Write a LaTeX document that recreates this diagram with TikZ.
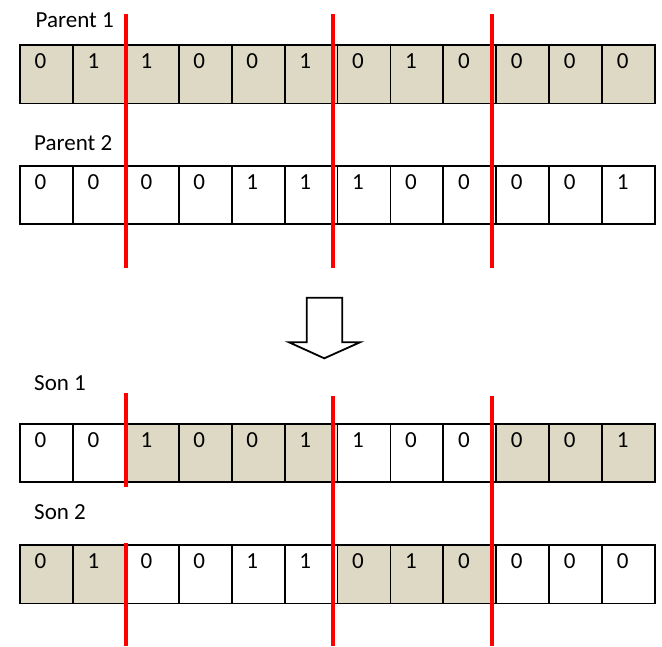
\documentclass[tikz,border=0pt]{standalone}
\usepackage{fontspec}
\setmainfont{Carlito}
\usetikzlibrary{calc}
\definecolor{gene}{HTML}{DDD9C4}

\begin{document}
\begin{tikzpicture}[
  x=1pt, y=-1pt,
  cell/.style={draw, line width=1.8pt, minimum width=52.92pt, minimum height=58.5pt, inner sep=0pt, outer sep=0pt},
  digit/.style={anchor=base, inner sep=0pt, font=\fontsize{23}{27}\selectfont},
  title/.style={anchor=base west, inner sep=0pt, font=\fontsize{23}{27}\selectfont},
  cut/.style={red, line width=4pt},
  arrowshape/.style={draw, fill=white, line width=1.8pt, line join=miter}
]
\useasboundingbox (0,0) rectangle (662,646);

% parents
\node[title] (parentA) at (35.5,27) {Parent 1};
\foreach \v [count=\i] in {0,1,1,0,0,1,0,1,0,0,0,0} {
  \node[cell, fill=gene] (pa\i) at ({20+52.92*(\i-0.5)},74.25) {};
  \node[digit] (pad\i) at ([shift={(20.5,23.5)}]pa\i.north west) {\v};
}

\node[title] (parentB) at (34,150) {Parent 2};
\foreach \v [count=\i] in {0,0,0,0,1,1,1,0,0,0,0,1} {
  \node[cell, fill=white] (pb\i) at ({20+52.92*(\i-0.5)},195) {};
  \node[digit] (pbd\i) at ([shift={(20.5,23.5)}]pb\i.north west) {\v};
}

\foreach \x in {125.7,332.7,492.3}
  \draw[cut] (\x,14) -- (\x,268);

% crossover arrow
\draw[arrowshape] (306.7,297.7) -- (342.3,297.7) -- (342.3,342.3) -- (360,342.3)
  -- (324.3,358.3) -- (289,342.3) -- (306.7,342.3) -- cycle;

% offspring
\node[title] (sonA) at (34,390) {Son 1};
\foreach \v/\c [count=\i] in {0/white,0/white,1/gene,0/gene,0/gene,1/gene,1/white,0/white,0/white,0/gene,0/gene,1/gene} {
  \node[cell, fill=\c] (sa\i) at ({20+52.92*(\i-0.5)},453) {};
  \node[digit] (sad\i) at ([shift={(20.5,23.5)}]sa\i.north west) {\v};
}

\node[title] (sonB) at (34,519) {Son 2};
\foreach \v/\c [count=\i] in {0/gene,1/gene,0/white,0/white,1/white,1/white,0/gene,1/gene,0/gene,0/white,0/white,0/white} {
  \node[cell, fill=\c] (sb\i) at ({20+52.92*(\i-0.5)},574.25) {};
  \node[digit] (sbd\i) at ([shift={(20.5,23.5)}]sb\i.north west) {\v};
}

\draw[cut] (125.7,393) -- (125.7,487);
\draw[cut] (125.7,543) -- (125.7,646);
\foreach \x in {332.7,492.3}
  \draw[cut] (\x,396) -- (\x,646);

\end{tikzpicture}
\end{document}
